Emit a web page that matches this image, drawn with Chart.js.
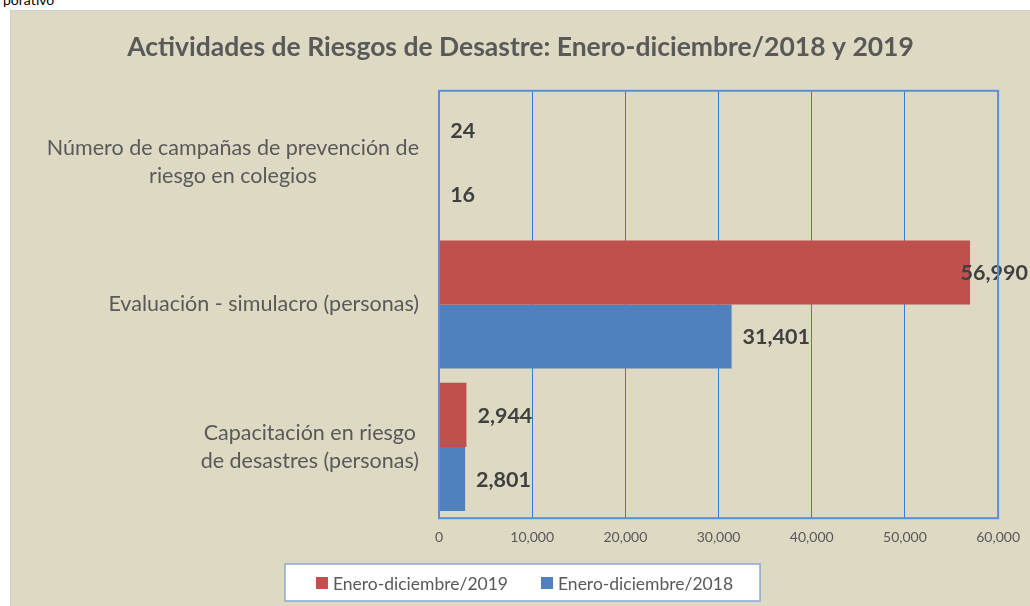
<!DOCTYPE html>
<html>
<head>
<meta charset="utf-8">
<script src="https://cdn.jsdelivr.net/npm/chart.js@4"></script>
<style>
  html, body { margin: 0; padding: 0; background: #fff; }
  body { width: 1030px; height: 606px; position: relative; overflow: hidden; font-family: Lato, sans-serif; }
  .cut { position: absolute; left: 3px; top: -9px; font-size: 14px; color: #000; }
  .panel { position: absolute; left: 10px; top: 10px; width: 1020px; height: 596px;
           background: #ddd9c3; border-left: 1px solid #cfcfcf; border-top: 1px solid #cfcfcf; box-sizing: border-box; }
  canvas { display: block; }
</style>
</head>
<body>
<div class="cut">porativo</div>
<div class="panel"><canvas id="riesgos" width="1019" height="595"></canvas></div>
<script>
// categories, top to bottom
const categories = [
  ['Número de campañas de prevención de', 'riesgo en colegios'],
  ['Evaluación - simulacro (personas)'],
  ['Capacitación en riesgo', 'de desastres (personas)']
];
const seriesNames = ['Enero-diciembre/2019', 'Enero-diciembre/2018'];
const values2019 = [24, 56990, 2944];
const values2018 = [16, 31401, 2801];
const xTicks = [0, 10000, 20000, 30000, 40000, 50000, 60000];

const red = '#c0504d';
const blue = '#4f81bd';
const textDark = '#404040';
const textGray = '#595959';

// category labels: lines centered inside each block, block right-aligned to the axis
const categoryLabels = {
  id: 'categoryLabels',
  afterDraw(chart) {
    const ctx = chart.ctx;
    const yScale = chart.scales.y;
    const right = chart.chartArea.left - 20;
    const lineH = 28;
    ctx.save();
    ctx.font = '21.5px Lato';
    ctx.fillStyle = textGray;
    ctx.textAlign = 'center';
    ctx.textBaseline = 'middle';
    categories.forEach((lines, i) => {
      const w = Math.max(...lines.map(l => ctx.measureText(l).width));
      const cx = right - w / 2;
      const cy = yScale.getPixelForValue(i);
      const y0 = cy - (lines.length - 1) * lineH / 2;
      lines.forEach((l, j) => ctx.fillText(l, cx, y0 + j * lineH));
    });
    ctx.restore();
  }
};

// values next to the bars
const valueLabels = {
  id: 'valueLabels',
  afterDatasetsDraw(chart) {
    const ctx = chart.ctx;
    ctx.save();
    ctx.font = 'bold 21.5px Lato';
    ctx.fillStyle = textDark;
    ctx.textAlign = 'left';
    ctx.textBaseline = 'middle';
    chart.data.datasets.forEach((ds, di) => {
      chart.getDatasetMeta(di).data.forEach((bar, i) => {
        const txt = ds.data[i].toLocaleString('en-US');
        const w = ctx.measureText(txt).width;
        let x = bar.x + 11;
        if (x + w > chart.width - 2) x = chart.width - 2 - w;
        ctx.fillText(txt, x, bar.y + 1);
      });
    });
    ctx.restore();
  }
};

// plot frame and boxed legend
const frame = {
  id: 'frame',
  afterDraw(chart) {
    const a = chart.chartArea;
    const ctx = chart.ctx;
    ctx.save();
    ctx.strokeStyle = '#5b8fd0';
    ctx.lineWidth = 2;
    ctx.strokeRect(a.left, a.top, a.right - a.left, a.bottom - a.top);

    ctx.font = '17.5px Lato';
    ctx.textBaseline = 'middle';
    ctx.textAlign = 'left';
    const sq = 12, gap = 5, itemGap = 33;
    const items = chart.data.datasets.map(ds => ({ label: ds.label, color: ds.backgroundColor, w: ctx.measureText(ds.label).width }));
    const total = items.reduce((s, it) => s + sq + gap + it.w, 0) + itemGap * (items.length - 1);
    let x = chart.width / 2 + 4 - total / 2;
    const cy = chart.height - 23;
    const boxL = x - 31, boxR = x + total + 27;
    ctx.fillStyle = '#ffffff';
    ctx.fillRect(boxL, cy - 19, boxR - boxL, 37);
    ctx.strokeStyle = '#8da9d3';
    ctx.lineWidth = 1.5;
    ctx.strokeRect(boxL, cy - 19, boxR - boxL, 37);
    items.forEach(it => {
      ctx.fillStyle = it.color;
      ctx.fillRect(x, cy - sq / 2, sq, sq);
      ctx.fillStyle = textGray;
      ctx.fillText(it.label, x + sq + gap, cy + 1);
      x += sq + gap + it.w + itemGap;
    });
    ctx.restore();
  }
};

new Chart(document.getElementById('riesgos'), {
  type: 'bar',
  data: {
    labels: categories,
    datasets: [
      { label: seriesNames[0], data: values2019, backgroundColor: red },
      { label: seriesNames[1], data: values2018, backgroundColor: blue }
    ]
  },
  options: {
    indexAxis: 'y',
    responsive: false,
    animation: false,
    devicePixelRatio: 1,
    categoryPercentage: 0.9,
    barPercentage: 1,
    layout: { padding: { left: 0, right: 0, top: 0, bottom: 50 } },
    scales: {
      x: {
        min: 0,
        max: 60000,
        afterBuildTicks: (scale) => { scale.ticks = xTicks.map(v => ({ value: v })); },
        grid: { color: '#2e7fd6', lineWidth: 1, drawTicks: true, tickLength: 1, tickColor: 'rgba(0,0,0,0)' },
        border: { display: false },
        ticks: {
          color: textGray,
          font: { family: 'Lato', size: 14 },
          padding: 10,
          maxRotation: 0,
          callback: (v) => v.toLocaleString('en-US')
        }
      },
      y: {
        grid: { display: false },
        border: { display: false },
        ticks: { display: false },
        afterFit: (scale) => { scale.width = 428; }
      }
    },
    plugins: {
      title: {
        display: true,
        text: 'Actividades de Riesgos de Desastre: Enero-diciembre/2018 y 2019',
        color: textGray,
        font: { family: 'Lato', size: 26.5, weight: 'bold' },
        padding: { top: 21, bottom: 27 }
      },
      legend: { display: false },
      tooltip: { enabled: false }
    }
  },
  plugins: [frame, valueLabels, categoryLabels]
});
</script>
</body>
</html>
